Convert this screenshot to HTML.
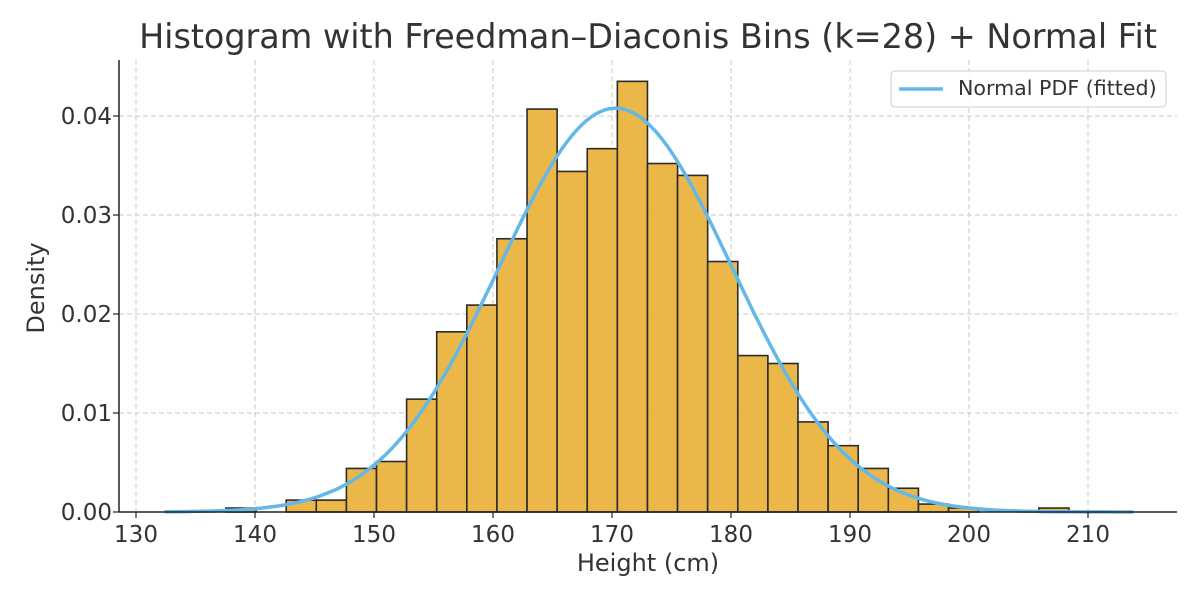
<!DOCTYPE html>
<html><head><meta charset="utf-8"><style>
body{margin:0;background:#fff;}
svg text{font-family:"DejaVu Sans","Liberation Sans",sans-serif;fill:#333;}
</style></head><body>
<svg id="chart" width="1200" height="600" xmlns="http://www.w3.org/2000/svg">
<text x="648" y="48" font-size="33.4" text-anchor="middle">Histogram with Freedman–Diaconis Bins (k=28) + Normal Fit</text>
<g id="grid"></g><g id="bars"></g><g id="curve"></g><g id="axes"></g>
<g>
<rect x="891" y="71" width="275" height="36" rx="4" fill="#fff" fill-opacity="0.85" stroke="#ccc"/>
<line x1="899" y1="89" x2="943" y2="89" stroke="#63b8e8" stroke-width="3.5"/>
<text x="958" y="95" font-size="20.6">Normal PDF (fitted)</text>
</g>
<text x="648" y="571" font-size="24" text-anchor="middle">Height (cm)</text>
<text transform="translate(44,288) rotate(-90)" font-size="24" text-anchor="middle">Density</text>
</svg>
<script>
const binStart = 137.56;
const binWidth = 2.53;
const densities = [0.0004,0,0.0012,0.0012,0.0044,0.0051,0.0114,0.0182,0.0209,0.0276,0.0407,0.0344,0.0367,0.0435,0.0352,0.0340,0.0253,0.0158,0.0150,0.0091,0.0067,0.0044,0.0024,0.0008,0.0004,0,0,0.0004];
const fitMu = 170.3;
const fitSigma = 9.78;
const curveRange = [132.4, 213.8];
const xTicks = [130,140,150,160,170,180,190,200,210];
const yTicks = [0,0.01,0.02,0.03,0.04];
const yTickLabels = ["0.00","0.01","0.02","0.03","0.04"];

const L=119,R=1177,T=60,B=512;
const xs=v=>136+(v-130)*11.9;
const ys=v=>B-v*9900;
const NS="http://www.w3.org/2000/svg";
function mk(tag,attrs,parent){const e=document.createElementNS(NS,tag);for(const k in attrs)e.setAttribute(k,attrs[k]);parent.appendChild(e);return e;}
const grid=document.getElementById('grid'),bars=document.getElementById('bars'),curve=document.getElementById('curve'),axes=document.getElementById('axes');
xTicks.forEach(t=>{
  const g=mk('line',{x1:xs(t),x2:xs(t),y1:T,y2:B,stroke:'#c8c8c8','stroke-dasharray':'5,3','stroke-width':1},grid);
  
  
  const tk=mk('line',{x1:xs(t),x2:xs(t),y1:B,y2:B+6,stroke:'#222','stroke-width':1.2},axes);
  
  
  const tx=mk('text',{x:xs(t),y:B+30,'font-size':23,'text-anchor':'middle'},axes);
  tx.textContent=t;
  
  
});
yTicks.forEach((t,i)=>{
  const g=mk('line',{x1:L,x2:R,y1:ys(t),y2:ys(t),stroke:'#c8c8c8','stroke-dasharray':'5,3','stroke-width':1},grid);
  
  
  const tk=mk('line',{x1:L-6,x2:L,y1:ys(t),y2:ys(t),stroke:'#222','stroke-width':1.2},axes);
  
  
  const tx=mk('text',{x:L-7,y:ys(t)+8,'font-size':23,'text-anchor':'end'},axes);
  tx.textContent=yTickLabels[i];
  
  
});
densities.forEach((d,i)=>{
  if(d<=0)return;
  const x0=xs(binStart+i*binWidth),x1=xs(binStart+(i+1)*binWidth);
  const r=mk('rect',{x:x0,y:ys(d),width:x1-x0,height:B-ys(d),fill:'#ebb33f','fill-opacity':0.95,stroke:'#2b2b2b','stroke-width':1.6},bars);
  
  
});
let pts=[];
for(let i=0;i<=200;i++){const x=curveRange[0]+(curveRange[1]-curveRange[0])*i/200;
  const y=Math.exp(-0.5*((x-fitMu)/fitSigma)**2)/(fitSigma*Math.sqrt(2*Math.PI));
  pts.push(xs(x).toFixed(1)+','+ys(y).toFixed(1));}
const p=mk('polyline',{points:pts.join(' '),fill:'none',stroke:'#63b8e8','stroke-width':3.5,'stroke-linejoin':'round'},curve);


const ax=mk('line',{x1:L,x2:R,y1:B,y2:B,stroke:'#222','stroke-width':1.5},axes);


const ay=mk('line',{x1:L,x2:L,y1:T,y2:B,stroke:'#222','stroke-width':1.5},axes);


</script>
</body></html>
